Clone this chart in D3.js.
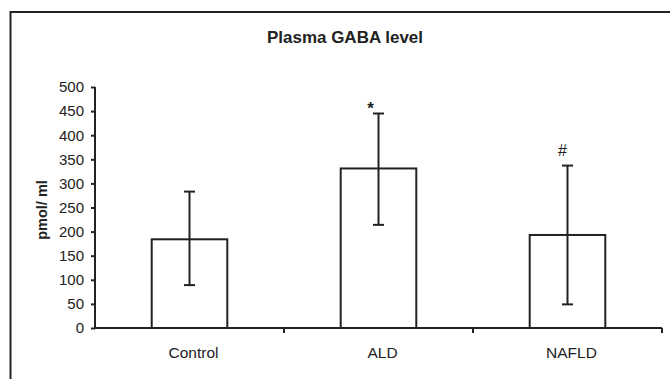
<!DOCTYPE html>
<html><head><meta charset="utf-8">
<script src="https://cdn.jsdelivr.net/npm/d3@7"></script>
<style>body{margin:0;background:#fff}svg{display:block}text{font-family:"Liberation Sans",Arial,sans-serif;fill:#222}</style>
</head><body><svg id="c" width="670" height="379"></svg>
<script>
const categories = ["Control", "ALD", "NAFLD"];
const means = [184, 331, 193];
const errLow = [89, 214, 49];
const errHigh = [283, 445, 337];
const marks = ["", "*", "#"];
const yTicks = [0,50,100,150,200,250,300,350,400,450,500];

const svg = d3.select("#c");
const ink = "#222";
const ff = '"Liberation Sans",Arial,sans-serif';
// outer frame
svg.append("path").attr("d","M10.5,390 V12 H690").attr("fill","none").attr("stroke",ink).attr("stroke-width",2);

const x = d3.scaleBand().domain(categories).range([95,662]).paddingInner(0).paddingOuter(0);
const y = d3.scaleLinear().domain([0,500]).range([328,87]);

svg.append("text").attr("x",345).attr("y",43).attr("text-anchor","middle")
  .attr("font-size",16.5).attr("font-weight","bold").attr("textLength",156).attr("lengthAdjust","spacingAndGlyphs").text("Plasma GABA level");

// y axis
const ya = svg.append("g").attr("transform","translate(95,0)").call(d3.axisLeft(y).tickValues(yTicks).tickSize(4).tickPadding(7));
ya.selectAll("path,line").attr("stroke",ink).attr("stroke-width",2);
ya.select(".domain").attr("d","M0,87V328");
ya.selectAll("text").attr("font-size",15).attr("fill",ink).style("font-family",ff);

// x axis
const xa = svg.append("g").attr("transform","translate(0,328)");
xa.append("line").attr("x1",95).attr("x2",662).attr("stroke",ink).attr("stroke-width",2);
categories.forEach((c,i)=>{
  xa.append("line").attr("x1",x(c)+x.bandwidth()).attr("x2",x(c)+x.bandwidth()).attr("y1",0).attr("y2",5).attr("stroke",ink).attr("stroke-width",2);
  xa.append("text").attr("x",x(c)+x.bandwidth()/2+4).attr("y",30).attr("text-anchor","middle").attr("font-size",15.5).text(c);
});

svg.append("text").attr("transform","translate(47,210) rotate(-90)").attr("text-anchor","middle")
  .attr("font-size",14.5).attr("font-weight","bold").text("pmol/ ml");

const bw = x.bandwidth()*0.4;
categories.forEach((c,i)=>{
  const cx = x(c)+x.bandwidth()/2;
  svg.append("rect").attr("x",cx-bw/2).attr("y",y(means[i])).attr("width",bw).attr("height",y(0)-y(means[i]))
    .attr("fill","#fff").attr("stroke",ink).attr("stroke-width",2);
  const g = svg.append("g").attr("stroke",ink).attr("stroke-width",2);
  g.append("line").attr("x1",cx).attr("x2",cx).attr("y1",y(errLow[i])).attr("y2",y(errHigh[i]));
  g.append("line").attr("x1",cx-5.5).attr("x2",cx+5.5).attr("y1",y(errLow[i])).attr("y2",y(errLow[i]));
  g.append("line").attr("x1",cx-5.5).attr("x2",cx+5.5).attr("y1",y(errHigh[i])).attr("y2",y(errHigh[i]));
});
// significance marks, placed relative to the error-bar tops
const mx = [0, -8, -5];
const my = [0, 0, -10];
categories.forEach((c,i)=>{
  if(!marks[i]) return;
  const cx = x(c)+x.bandwidth()/2;
  svg.append("text").attr("x",cx+mx[i]).attr("y",y(errHigh[i])+my[i]).attr("text-anchor","middle")
    .attr("font-size",marks[i]==="*"?17:16).attr("font-weight",marks[i]==="*"?"bold":"normal").text(marks[i]);
});
</script></body></html>
